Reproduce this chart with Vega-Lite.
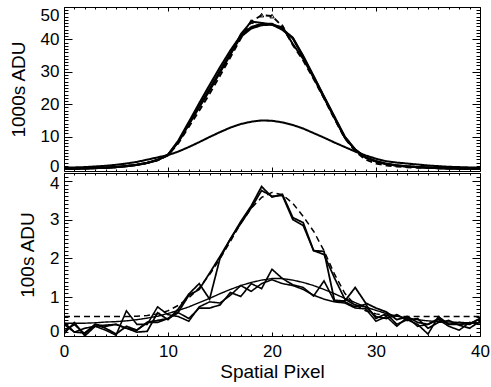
{
  "$schema": "https://vega.github.io/schema/vega-lite/v6.json",
  "padding": {"left": 8, "top": 5, "right": 5, "bottom": 5},
  "background": "white",
  "spacing": 2,
  "bounds": "flush",
  "config": {
    "view": {"stroke": "black", "strokeWidth": 1},
    "font": "Liberation Sans",
    "axis": {"grid": false, "domain": false, "labelColor": "black", "titleColor": "black", "tickColor": "black", "labelFont": "Liberation Sans", "titleFont": "Liberation Sans", "labelFontSize": 17, "titleFontSize": 19, "titleFontWeight": "normal"}
  },
  "vconcat": [
    {
      "width": 416,
      "height": 164,
      "data": {"values": [
        {"x":0,"tallA":0.1,"tallB":0.1,"broad":0.4,"data":0.1,"model":0.1},
        {"x":1,"tallA":0.1,"tallB":0.1,"broad":0.5,"data":0.1,"model":0.1},
        {"x":2,"tallA":0.2,"tallB":0.2,"broad":0.6,"data":0.2,"model":0.2},
        {"x":3,"tallA":0.3,"tallB":0.3,"broad":0.8,"data":0.3,"model":0.3},
        {"x":4,"tallA":0.4,"tallB":0.4,"broad":1.0,"data":0.4,"model":0.4},
        {"x":5,"tallA":0.6,"tallB":0.6,"broad":1.3,"data":0.6,"model":0.6},
        {"x":6,"tallA":0.9,"tallB":0.9,"broad":1.7,"data":0.9,"model":0.9},
        {"x":7,"tallA":1.3,"tallB":1.3,"broad":2.2,"data":1.3,"model":1.3},
        {"x":8,"tallA":1.9,"tallB":1.9,"broad":2.9,"data":1.9,"model":1.9},
        {"x":9,"tallA":2.8,"tallB":2.8,"broad":3.6,"data":2.8,"model":2.7},
        {"x":10,"tallA":4.4,"tallB":4.4,"broad":4.3,"data":4.4,"model":4.2},
        {"x":11,"tallA":8.4,"tallB":8.8,"broad":5.4,"data":8.4,"model":8.0},
        {"x":12,"tallA":13.8,"tallB":14.5,"broad":6.8,"data":13.8,"model":13.0},
        {"x":13,"tallA":19.3,"tallB":20.3,"broad":8.3,"data":19.0,"model":18.0},
        {"x":14,"tallA":24.7,"tallB":25.9,"broad":9.9,"data":24.2,"model":23.2},
        {"x":15,"tallA":30.2,"tallB":31.4,"broad":11.4,"data":29.8,"model":28.8},
        {"x":16,"tallA":35.6,"tallB":36.6,"broad":12.8,"data":35.2,"model":34.5},
        {"x":17,"tallA":40.8,"tallB":41.2,"broad":13.9,"data":41.6,"model":40.3},
        {"x":18,"tallA":43.4,"tallB":43.8,"broad":14.6,"data":45.5,"model":45.5},
        {"x":19,"tallA":44.4,"tallB":44.8,"broad":15.0,"data":45.1,"model":47.5},
        {"x":20,"tallA":44.6,"tallB":44.8,"broad":14.9,"data":44.5,"model":47.2},
        {"x":21,"tallA":43.0,"tallB":43.2,"broad":14.4,"data":43.8,"model":44.0},
        {"x":22,"tallA":40.4,"tallB":40.5,"broad":13.6,"data":38.6,"model":38.3},
        {"x":23,"tallA":34.6,"tallB":34.9,"broad":12.5,"data":34.0,"model":33.5},
        {"x":24,"tallA":28.4,"tallB":28.7,"broad":11.1,"data":28.2,"model":27.8},
        {"x":25,"tallA":22.2,"tallB":22.4,"broad":9.7,"data":22.0,"model":21.8},
        {"x":26,"tallA":16.0,"tallB":16.2,"broad":8.2,"data":15.8,"model":15.5},
        {"x":27,"tallA":9.8,"tallB":10.0,"broad":6.8,"data":9.7,"model":9.5},
        {"x":28,"tallA":6.0,"tallB":6.0,"broad":5.4,"data":5.9,"model":5.5},
        {"x":29,"tallA":3.6,"tallB":3.6,"broad":4.2,"data":3.5,"model":2.9},
        {"x":30,"tallA":2.4,"tallB":2.4,"broad":3.2,"data":2.3,"model":1.7},
        {"x":31,"tallA":1.6,"tallB":1.6,"broad":2.4,"data":1.5,"model":1.1},
        {"x":32,"tallA":1.1,"tallB":1.1,"broad":2.0,"data":1.1,"model":0.8},
        {"x":33,"tallA":0.8,"tallB":0.8,"broad":1.7,"data":0.8,"model":0.55},
        {"x":34,"tallA":0.6,"tallB":0.6,"broad":1.4,"data":0.6,"model":0.4},
        {"x":35,"tallA":0.45,"tallB":0.45,"broad":1.1,"data":0.45,"model":0.3},
        {"x":36,"tallA":0.3,"tallB":0.3,"broad":0.9,"data":0.3,"model":0.25},
        {"x":37,"tallA":0.2,"tallB":0.2,"broad":0.7,"data":0.2,"model":0.2},
        {"x":38,"tallA":0.15,"tallB":0.15,"broad":0.6,"data":0.15,"model":0.15},
        {"x":39,"tallA":0.1,"tallB":0.1,"broad":0.5,"data":0.1,"model":0.1},
        {"x":40,"tallA":0.1,"tallB":0.1,"broad":0.4,"data":0.1,"model":0.1}
      ]},
      "transform": [{"fold": ["tallA","tallB","broad","data","model"], "as": ["s","v"]}],
      "layer": [
        {
          "mark": {"type": "line", "clip": true, "color": "black"},
          "encoding": {
            "x": {"field": "x", "type": "quantitative", "scale": {"domain": [0, 40], "nice": false},
                  "axis": {"orient": "bottom", "values": [0,10,20,30,40], "labels": false, "ticks": false, "title": null, "minExtent": 0, "maxExtent": 0}},
            "y": {"field": "v", "type": "quantitative", "scale": {"domain": [-0.6, 50], "nice": false, "zero": false},
                  "axis": {"orient": "left", "values": [0,10,20,30,40,50], "ticks": false, "labelPadding": 5, "title": "1000s ADU", "titlePadding": 12,
                           "labelOffset": {"condition": {"test": "datum.value === 0", "value": -3}, "value": 0},
                           "labelBaseline": {"condition": {"test": "datum.value === 50", "value": "top"}, "value": "middle"}}},
            "strokeWidth": {"field": "s", "type": "nominal", "scale": {"domain": ["tallA","tallB","broad","data","model"], "range": [2.2,1.4,2.2,1,1]}, "legend": null},
            "strokeDash": {"field": "s", "type": "nominal", "scale": {"domain": ["tallA","tallB","broad","data","model"], "range": [[1,0],[1,0],[1,0],[1,0],[6,4]]}, "legend": null}
          }
        },
        {
          "transform": [{"filter": "datum.s === 'model' && datum.x >= 18 && datum.x <= 21"}],
          "mark": {"type": "point", "shape": "triangle-up", "filled": false, "color": "black", "size": 18, "strokeWidth": 1, "opacity": 1},
          "encoding": {
            "x": {"field": "x", "type": "quantitative",
                  "axis": {"orient": "bottom", "minExtent": 0, "maxExtent": 0, "values": [0,1,2,3,4,5,6,7,8,9,10,11,12,13,14,15,16,17,18,19,20,21,22,23,24,25,26,27,28,29,30,31,32,33,34,35,36,37,38,39,40], "labels": false, "title": null, "tickSize": {"condition": {"test": "datum.value % 10 === 0", "value": -4}, "value": -2}}},
            "y": {"field": "v", "type": "quantitative",
                  "axis": {"orient": "left", "minExtent": 0, "maxExtent": 0, "values": [0,1,2,3,4,5,6,7,8,9,10,11,12,13,14,15,16,17,18,19,20,21,22,23,24,25,26,27,28,29,30,31,32,33,34,35,36,37,38,39,40,41,42,43,44,45,46,47,48,49,50], "labels": false, "title": null, "tickSize": {"condition": {"test": "datum.value % 10 === 0", "value": -8}, "value": -4}}}
          }
        },
        {
          "mark": {"type": "point", "opacity": 0},
          "encoding": {
            "x": {"field": "x", "type": "quantitative",
                  "axis": {"orient": "top", "minExtent": 0, "maxExtent": 0, "values": [0,1,2,3,4,5,6,7,8,9,10,11,12,13,14,15,16,17,18,19,20,21,22,23,24,25,26,27,28,29,30,31,32,33,34,35,36,37,38,39,40], "labels": false, "title": null, "tickSize": {"condition": {"test": "datum.value % 10 === 0", "value": -4}, "value": -2}}},
            "y": {"field": "v", "type": "quantitative",
                  "axis": {"orient": "right", "minExtent": 0, "maxExtent": 0, "values": [0,1,2,3,4,5,6,7,8,9,10,11,12,13,14,15,16,17,18,19,20,21,22,23,24,25,26,27,28,29,30,31,32,33,34,35,36,37,38,39,40,41,42,43,44,45,46,47,48,49,50], "labels": false, "title": null, "tickSize": {"condition": {"test": "datum.value % 10 === 0", "value": -8}, "value": -4}}}
          }
        }
      ],
      "resolve": {"axis": {"x": "independent", "y": "independent"}}
    },
    {
      "width": 416,
      "height": 163,
      "data": {"values": [
        {"x":0,"tT":0.12,"tt":0.35,"bT":0.3,"bt":0.05,"tm":0.5,"bm":0.33},
        {"x":1,"tT":0.3,"tt":0.1,"bT":0.1,"bt":0.35,"tm":0.5,"bm":0.33},
        {"x":2,"tT":0.05,"tt":0.08,"bT":0.2,"bt":0.0,"tm":0.5,"bm":0.33},
        {"x":3,"tT":0.3,"tt":0.3,"bT":0.25,"bt":0.25,"tm":0.5,"bm":0.34},
        {"x":4,"tT":0.2,"tt":0.25,"bT":0.28,"bt":0.15,"tm":0.5,"bm":0.36},
        {"x":5,"tT":0.05,"tt":0.3,"bT":0.3,"bt":0.02,"tm":0.5,"bm":0.37},
        {"x":6,"tT":0.25,"tt":0.2,"bT":0.2,"bt":0.65,"tm":0.5,"bm":0.39},
        {"x":7,"tT":0.15,"tt":0.1,"bT":0.15,"bt":0.3,"tm":0.51,"bm":0.42},
        {"x":8,"tT":0.35,"tt":0.12,"bT":0.35,"bt":0.3,"tm":0.53,"bm":0.46},
        {"x":9,"tT":0.4,"tt":0.6,"bT":0.35,"bt":0.75,"tm":0.57,"bm":0.51},
        {"x":10,"tT":0.45,"tt":0.42,"bT":0.45,"bt":0.55,"tm":0.65,"bm":0.58},
        {"x":11,"tT":0.62,"tt":0.7,"bT":0.6,"bt":0.5,"tm":0.79,"bm":0.66},
        {"x":12,"tT":1.05,"tt":1.08,"bT":0.45,"bt":0.38,"tm":0.98,"bm":0.75},
        {"x":13,"tT":1.2,"tt":1.35,"bT":0.72,"bt":0.75,"tm":1.24,"bm":0.86},
        {"x":14,"tT":1.62,"tt":0.95,"bT":0.72,"bt":0.88,"tm":1.58,"bm":0.97},
        {"x":15,"tT":2.05,"tt":2.0,"bT":0.8,"bt":0.85,"tm":1.99,"bm":1.09},
        {"x":16,"tT":2.5,"tt":2.5,"bT":1.12,"bt":1.05,"tm":2.44,"bm":1.2},
        {"x":17,"tT":2.95,"tt":2.9,"bT":1.02,"bt":1.3,"tm":2.9,"bm":1.3},
        {"x":18,"tT":3.35,"tt":3.3,"bT":1.35,"bt":1.15,"tm":3.29,"bm":1.38},
        {"x":19,"tT":3.85,"tt":3.75,"bT":1.22,"bt":1.35,"tm":3.57,"bm":1.44},
        {"x":20,"tT":3.58,"tt":3.6,"bT":1.72,"bt":1.45,"tm":3.7,"bm":1.48},
        {"x":21,"tT":3.65,"tt":3.62,"bT":1.48,"bt":1.35,"tm":3.64,"bm":1.48},
        {"x":22,"tT":3.05,"tt":3.0,"bT":1.32,"bt":1.3,"tm":3.42,"bm":1.44},
        {"x":23,"tT":2.92,"tt":2.85,"bT":1.25,"bt":1.2,"tm":3.08,"bm":1.38},
        {"x":24,"tT":2.2,"tt":2.2,"bT":1.03,"bt":1.05,"tm":2.7,"bm":1.3},
        {"x":25,"tT":2.18,"tt":2.1,"bT":1.42,"bt":0.95,"tm":2.2,"bm":1.2},
        {"x":26,"tT":0.92,"tt":1.5,"bT":0.9,"bt":0.88,"tm":1.6,"bm":1.09},
        {"x":27,"tT":0.9,"tt":0.95,"bT":0.88,"bt":0.85,"tm":1.1,"bm":0.97},
        {"x":28,"tT":1.25,"tt":0.8,"bT":0.75,"bt":0.72,"tm":0.8,"bm":0.86},
        {"x":29,"tT":0.85,"tt":0.75,"bT":0.82,"bt":0.7,"tm":0.65,"bm":0.75},
        {"x":30,"tT":0.72,"tt":0.5,"bT":0.45,"bt":0.38,"tm":0.57,"bm":0.66},
        {"x":31,"tT":0.62,"tt":0.45,"bT":0.58,"bt":0.5,"tm":0.53,"bm":0.58},
        {"x":32,"tT":0.42,"tt":0.55,"bT":0.3,"bt":0.25,"tm":0.51,"bm":0.51},
        {"x":33,"tT":0.5,"tt":0.4,"bT":0.42,"bt":0.48,"tm":0.5,"bm":0.46},
        {"x":34,"tT":0.35,"tt":0.45,"bT":0.3,"bt":0.25,"tm":0.5,"bm":0.42},
        {"x":35,"tT":0.3,"tt":0.2,"bT":0.05,"bt":0.3,"tm":0.5,"bm":0.39},
        {"x":36,"tT":0.45,"tt":0.35,"bT":0.5,"bt":0.42,"tm":0.5,"bm":0.37},
        {"x":37,"tT":0.3,"tt":0.4,"bT":0.3,"bt":0.25,"tm":0.5,"bm":0.36},
        {"x":38,"tT":0.35,"tt":0.28,"bT":0.3,"bt":0.15,"tm":0.5,"bm":0.35},
        {"x":39,"tT":0.3,"tt":0.2,"bT":0.32,"bt":0.35,"tm":0.5,"bm":0.34},
        {"x":40,"tT":0.45,"tt":0.38,"bT":0.45,"bt":0.3,"tm":0.5,"bm":0.34}
      ]},
      "transform": [{"fold": ["tT","tt","bT","bt","tm","bm"], "as": ["s","v"]}],
      "layer": [
        {
          "mark": {"type": "line", "clip": true, "color": "black"},
          "encoding": {
            "x": {"field": "x", "type": "quantitative", "scale": {"domain": [0, 40], "nice": false},
                  "axis": {"orient": "bottom", "values": [0,10,20,30,40], "ticks": false, "labelFlush": false, "labelPadding": 7, "title": "Spatial Pixel", "titlePadding": 3}},
            "y": {"field": "v", "type": "quantitative", "scale": {"domain": [0, 4.2], "nice": false, "zero": false},
                  "axis": {"orient": "left", "values": [0,1,2,3,4], "ticks": false, "labelPadding": 5, "title": "100s ADU", "titlePadding": 12,
                           "labelOffset": {"condition": {"test": "datum.value === 4", "value": 3}, "value": 0},
                           "labelBaseline": {"condition": {"test": "datum.value === 0", "value": "alphabetic"}, "value": "middle"}}},
            "strokeWidth": {"field": "s", "type": "nominal", "scale": {"domain": ["tT","tt","bT","bt","tm","bm"], "range": [2,1,2,1,1,1]}, "legend": null},
            "strokeDash": {"field": "s", "type": "nominal", "scale": {"domain": ["tT","tt","bT","bt","tm","bm"], "range": [[1,0],[1,0],[1,0],[1,0],[6,4],[6,4]]}, "legend": null}
          }
        },
        {
          "mark": {"type": "point", "opacity": 0},
          "encoding": {
            "x": {"field": "x", "type": "quantitative",
                  "axis": {"orient": "bottom", "minExtent": 0, "maxExtent": 0, "values": [0,1,2,3,4,5,6,7,8,9,10,11,12,13,14,15,16,17,18,19,20,21,22,23,24,25,26,27,28,29,30,31,32,33,34,35,36,37,38,39,40], "labels": false, "title": null, "tickSize": {"condition": {"test": "datum.value % 10 === 0", "value": -4}, "value": -2}}},
            "y": {"field": "v", "type": "quantitative",
                  "axis": {"orient": "left", "minExtent": 0, "maxExtent": 0, "values": [0,0.1,0.2,0.3,0.4,0.5,0.6,0.7,0.8,0.9,1,1.1,1.2,1.3,1.4,1.5,1.6,1.7,1.8,1.9,2,2.1,2.2,2.3,2.4,2.5,2.6,2.7,2.8,2.9,3,3.1,3.2,3.3,3.4,3.5,3.6,3.7,3.8,3.9,4,4.1,4.2], "labels": false, "title": null, "tickSize": {"condition": {"test": "abs(datum.value - round(datum.value)) < 0.001", "value": -8}, "value": -4}}}
          }
        },
        {
          "mark": {"type": "point", "opacity": 0},
          "encoding": {
            "x": {"field": "x", "type": "quantitative",
                  "axis": {"orient": "top", "minExtent": 0, "maxExtent": 0, "values": [0,1,2,3,4,5,6,7,8,9,10,11,12,13,14,15,16,17,18,19,20,21,22,23,24,25,26,27,28,29,30,31,32,33,34,35,36,37,38,39,40], "labels": false, "title": null, "tickSize": {"condition": {"test": "datum.value % 10 === 0", "value": -4}, "value": -2}}},
            "y": {"field": "v", "type": "quantitative",
                  "axis": {"orient": "right", "minExtent": 0, "maxExtent": 0, "values": [0,0.1,0.2,0.3,0.4,0.5,0.6,0.7,0.8,0.9,1,1.1,1.2,1.3,1.4,1.5,1.6,1.7,1.8,1.9,2,2.1,2.2,2.3,2.4,2.5,2.6,2.7,2.8,2.9,3,3.1,3.2,3.3,3.4,3.5,3.6,3.7,3.8,3.9,4,4.1,4.2], "labels": false, "title": null, "tickSize": {"condition": {"test": "abs(datum.value - round(datum.value)) < 0.001", "value": -8}, "value": -4}}}
          }
        }
      ],
      "resolve": {"axis": {"x": "independent", "y": "independent"}}
    }
  ]
}
